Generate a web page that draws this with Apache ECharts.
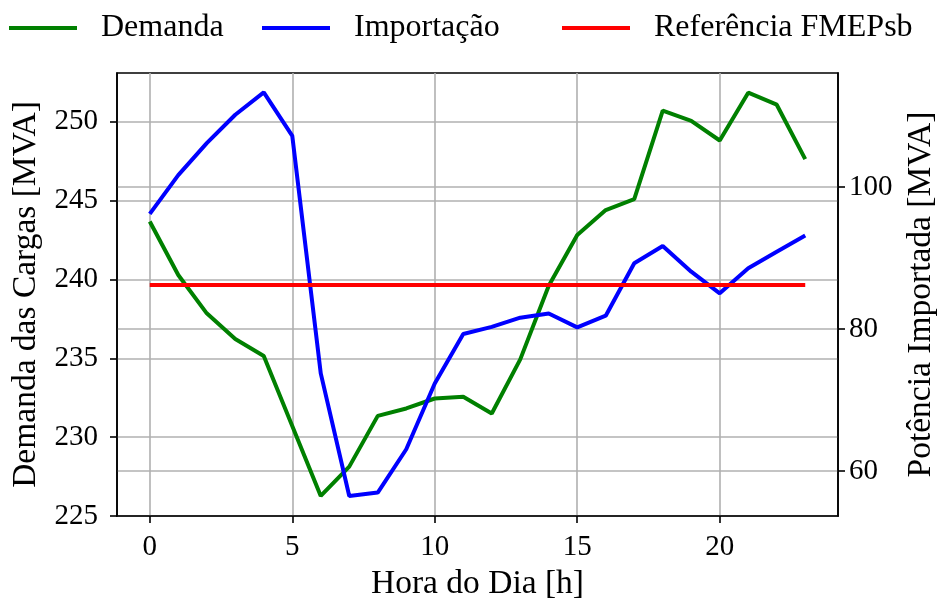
<!DOCTYPE html>
<html>
<head>
<meta charset="utf-8">
<style>
  html, body { margin: 0; padding: 0; background: #fff; }
  #main { width: 945px; height: 601px; }
</style>
<script src="https://cdn.jsdelivr.net/npm/echarts@6.0.0/dist/echarts.min.js"></script>
</head>
<body>
<div id="main"></div>
<script>
  // dados
  const hours = [0, 1, 2, 3, 4, 5, 6, 7, 8, 9, 10, 11, 12, 13, 14, 15, 16, 17, 18, 19, 20, 21, 22, 23]
  const demanda = [243.67, 240.28, 237.85, 236.22, 235.14, 230.7, 226.27, 228.13, 231.35, 231.82, 232.45, 232.56,
    231.5, 234.93, 239.6, 242.82, 244.4, 245.09, 250.7, 250.06, 248.81, 251.84, 251.08, 247.63]
  const importacao = [96.23, 101.7, 106.2, 110.2, 113.35, 107.24, 73.75, 56.47, 56.95, 63.06, 72.33, 79.3,
    80.3, 81.6, 82.2, 80.24, 81.88, 89.27, 91.7, 88.09, 85.04, 88.57, 90.91, 93.18]
  const referencia = 86.21
  const xTicks = [0, 5, 10, 15, 20]
  const leftTicks = [225, 230, 235, 240, 245, 250]
  const rightTicks = [60, 80, 100]

  const font = 'Liberation Serif'
  const black = '#000'
  const gridGray = '#b0b0b0'

  const chart = echarts.init(document.getElementById('main'))

  function legendItem(name, left) {
    return {
      left: left, top: 12, padding: 0,
      data: [name],
      icon: 'rect', itemWidth: 68, itemHeight: 4,
      selectedMode: false,
      textStyle: { fontFamily: font, fontSize: 32, color: black, padding: [0, 0, 0, 19] }
    }
  }

  function axisCommon(ticks, margin) {
    return {
      axisLine: { show: true, onZero: false, lineStyle: { color: black, width: 1.6 } },
      axisTick: { show: true, inside: false, length: 7, customValues: ticks, lineStyle: { color: black, width: 1.6 } },
      axisLabel: { customValues: ticks, margin: margin, fontFamily: font, fontSize: 29, color: black },
      splitLine: { show: true, lineStyle: { color: gridGray, width: 1.6 } },
      nameTextStyle: { fontFamily: font, fontSize: 33.5, color: black }
    }
  }

  chart.setOption({
    animation: false,
    backgroundColor: '#fff',
    legend: [
      legendItem('Demanda', 9),
      legendItem('Importação', 262),
      legendItem('Referência FMEPsb', 562)
    ],
    grid: {
      left: 117, right: 107, top: 73, bottom: 85,
      containLabel: false, outerBoundsMode: 'none',
      show: true, borderColor: black, borderWidth: 1.6
    },
    xAxis: Object.assign(axisCommon(xTicks, 17), {
      type: 'value', min: -1.15, max: 24.15,
      name: 'Hora do Dia [h]', nameLocation: 'middle', nameGap: 49
    }),
    yAxis: [
      Object.assign(axisCommon(leftTicks, 19), {
        type: 'value', position: 'left', min: 225, max: 253.09,
        name: 'Demanda das Cargas [MVA]', nameLocation: 'middle', nameGap: 65, nameRotate: 90
      }),
      Object.assign(axisCommon(rightTicks, 11), {
        type: 'value', position: 'right', min: 53.65, max: 116.09,
        name: 'Potência Importada [MVA]', nameLocation: 'middle', nameGap: 66, nameRotate: 90
      })
    ],
    series: [
      {
        name: 'Demanda', type: 'line', yAxisIndex: 0,
        data: hours.map((h, i) => [h, demanda[i]]),
        showSymbol: false,
        itemStyle: { color: '#008000' },
        lineStyle: { color: '#008000', width: 4 }
      },
      {
        name: 'Importação', type: 'line', yAxisIndex: 1,
        data: hours.map((h, i) => [h, importacao[i]]),
        showSymbol: false,
        itemStyle: { color: '#0000ff' },
        lineStyle: { color: '#0000ff', width: 4 }
      },
      {
        name: 'Referência FMEPsb', type: 'line', yAxisIndex: 1,
        data: hours.map(h => [h, referencia]),
        showSymbol: false,
        itemStyle: { color: '#ff0000' },
        lineStyle: { color: '#ff0000', width: 4 }
      }
    ]
  })
</script>
</body>
</html>
